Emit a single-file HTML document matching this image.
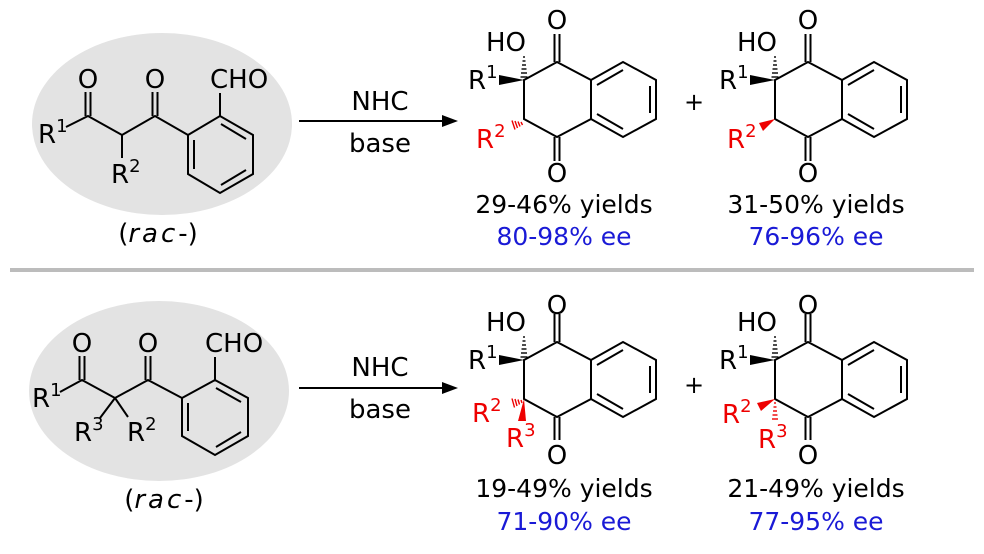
<!DOCTYPE html>
<html><head><meta charset="utf-8"><style>
html,body{margin:0;padding:0;background:#fff;}
svg{display:block;}
text{font-family:"DejaVu Sans","Liberation Sans",sans-serif;}
</style></head><body>
<svg width="984" height="554" viewBox="0 0 984 554" xmlns="http://www.w3.org/2000/svg">
<defs>
<g id="core" fill="none" stroke="#000" stroke-width="2">
  <path d="M524,80 L557,62 L591,80 L591,119 L557,137 L524,119 Z"/>
  <path d="M591,80 L623,62 L656,80 L656,119 L623,137 L591,119"/>
  <path d="M597,85 L623,70 M650,86 L650,113 M623,129 L597,114"/>
  <path d="M554.5,62 L554.5,34 M559.5,62 L559.5,34"/>
</g>
<g id="r1">
  <polygon points="524,80 499,75 499,85" fill="#000"/>
  <g stroke="#000" stroke-width="1.4">
    <line x1="520.5" y1="77" x2="527.5" y2="77"/><line x1="521" y1="73" x2="527" y2="73"/>
    <line x1="521.5" y1="69" x2="526.5" y2="69"/><line x1="522" y1="65" x2="526" y2="65"/>
    <line x1="522.5" y1="61" x2="525.5" y2="61"/><line x1="523" y1="57" x2="525" y2="57"/>
  </g>
</g>
</defs>

<ellipse cx="162" cy="124" rx="130" ry="91" fill="#e3e3e3"/>
<ellipse cx="159" cy="391" rx="130" ry="90" fill="#e3e3e3"/>
<rect x="10" y="268" width="964" height="4" fill="#bcbcbc"/>

<!-- Top substrate -->
<g fill="none" stroke="#000" stroke-width="2">
  <path d="M66,127 L88,116 L122,135 L155,116 L188,135"/>
  <path d="M122,135 L122,158"/>
  <path d="M85.5,116 L85.5,92 M90.5,116 L90.5,92"/>
  <path d="M152.5,116 L152.5,92 M157.5,116 L157.5,92"/>
  <path d="M188,135 L220,116 L253,135 L253,174 L220,193 L188,174 Z"/>
  <path d="M221,124 L246,139 M246,170 L221,185 M194,140 L194,169"/>
  <path d="M220,116 L220,93"/>
</g>
<g font-size="26" fill="#000">
  <text x="88" y="88" text-anchor="middle">O</text>
  <text x="155" y="88" text-anchor="middle">O</text>
  <text x="210" y="88">CHO</text>
  <text x="38" y="143">R<tspan font-size="18" dy="-11">1</tspan></text>
  <text x="111" y="183">R<tspan font-size="18" dy="-11">2</tspan></text>
  <text x="158" y="242" text-anchor="middle">(<tspan font-style="italic" letter-spacing="3">rac</tspan>-)</text>
</g>

<!-- Bottom substrate -->
<g fill="none" stroke="#000" stroke-width="2">
  <path d="M60,392 L82,380 L115,398 L148,380 L182,398"/>
  <path d="M115,398 L100,418 M115,398 L128,417"/>
  <path d="M79.5,380 L79.5,356 M84.5,380 L84.5,356"/>
  <path d="M145.5,380 L145.5,356 M150.5,380 L150.5,356"/>
  <path d="M182,398 L215,380 L248,398 L248,436 L215,455 L182,436 Z"/>
  <path d="M216,388 L241,402 M241,432 L216,447 M188,403 L188,431"/>
  <path d="M215,380 L215,357"/>
</g>
<g font-size="26" fill="#000">
  <text x="82" y="352" text-anchor="middle">O</text>
  <text x="148" y="352" text-anchor="middle">O</text>
  <text x="205" y="352">CHO</text>
  <text x="32" y="407">R<tspan font-size="18" dy="-11">1</tspan></text>
  <text x="74" y="441">R<tspan font-size="18" dy="-11">3</tspan></text>
  <text x="127" y="441">R<tspan font-size="18" dy="-11">2</tspan></text>
  <text x="164" y="508" text-anchor="middle">(<tspan font-style="italic" letter-spacing="3">rac</tspan>-)</text>
</g>

<!-- Arrows -->
<g stroke="#000" stroke-width="2">
  <line x1="299" y1="121" x2="445" y2="121"/>
  <line x1="299" y1="388" x2="445" y2="388"/>
</g>
<polygon points="458,121 442,115 442,127" fill="#000"/>
<polygon points="458,388 442,382 442,394" fill="#000"/>
<g font-size="26" fill="#000" text-anchor="middle">
  <text x="380" y="110">NHC</text>
  <text x="380" y="152">base</text>
  <text x="380" y="376">NHC</text>
  <text x="380" y="418">base</text>
  <text x="694" y="110" font-size="24">+</text>
  <text x="694" y="393" font-size="24">+</text>
</g>

<!-- Product 1 top -->
<use href="#core"/>
<use href="#r1"/>
<g stroke="#000" stroke-width="2"><path d="M554.5,137 L554.5,161 M559.5,137 L559.5,161"/></g>
<g stroke="#e00" stroke-width="1.4">
  <line x1="521" y1="122" x2="522.5" y2="125"/><line x1="518" y1="121.5" x2="520" y2="126.5"/>
  <line x1="515" y1="121" x2="517.5" y2="128"/><line x1="512" y1="120.5" x2="515" y2="129.5"/>
</g>
<g font-size="26">
  <text x="557" y="29" text-anchor="middle">O</text>
  <text x="557" y="182" text-anchor="middle">O</text>
  <text x="486" y="51">HO</text>
  <text x="468" y="89">R<tspan font-size="18" dy="-11">1</tspan></text>
  <text x="476" y="148" fill="#e00">R<tspan font-size="18" dy="-11">2</tspan></text>
</g>

<!-- Product 2 top -->
<g transform="translate(251,0)">
<use href="#core"/>
<use href="#r1"/>
<g stroke="#000" stroke-width="2"><path d="M554.5,137 L554.5,161 M559.5,137 L559.5,161"/></g>
<polygon points="524,119 508,123 512,131" fill="#e00"/>
<g font-size="26">
  <text x="557" y="29" text-anchor="middle">O</text>
  <text x="557" y="182" text-anchor="middle">O</text>
  <text x="486" y="51">HO</text>
  <text x="468" y="89">R<tspan font-size="18" dy="-11">1</tspan></text>
  <text x="476" y="148" fill="#e00">R<tspan font-size="18" dy="-11">2</tspan></text>
</g>
</g>

<!-- Product 1 bottom -->
<g transform="translate(0,280)">
<use href="#core"/>
<use href="#r1"/>
<g stroke="#000" stroke-width="2"><path d="M554.5,137 L554.5,160 M559.5,137 L559.5,160"/></g>
<g stroke="#e00" stroke-width="1.4">
  <line x1="521" y1="120" x2="522" y2="123"/><line x1="518" y1="119.5" x2="519.5" y2="124.5"/>
  <line x1="515" y1="119" x2="517" y2="126"/><line x1="512" y1="118.5" x2="514.5" y2="127.5"/>
</g>
<polygon points="524,119 518,141 526,141" fill="#e00"/>
<g font-size="26">
  <text x="557" y="34" text-anchor="middle">O</text>
  <text x="557" y="184" text-anchor="middle">O</text>
  <text x="486" y="51">HO</text>
  <text x="468" y="89">R<tspan font-size="18" dy="-11">1</tspan></text>
  <text x="472" y="142" fill="#e00">R<tspan font-size="18" dy="-11">2</tspan></text>
  <text x="506" y="167" fill="#e00">R<tspan font-size="18" dy="-11">3</tspan></text>
</g>
</g>

<!-- Product 2 bottom -->
<g transform="translate(251,280)">
<use href="#core"/>
<use href="#r1"/>
<g stroke="#000" stroke-width="2"><path d="M554.5,137 L554.5,160 M559.5,137 L559.5,160"/></g>
<polygon points="524,119 506,123 510,131" fill="#e00"/>
<g stroke="#e00" stroke-width="1.4">
  <line x1="523" y1="123" x2="525" y2="123"/><line x1="522.5" y1="127" x2="525.5" y2="127"/>
  <line x1="522" y1="131" x2="526" y2="131"/><line x1="521.5" y1="135" x2="526.5" y2="135"/>
  <line x1="521" y1="139" x2="527" y2="139"/>
</g>
<g font-size="26">
  <text x="557" y="34" text-anchor="middle">O</text>
  <text x="557" y="184" text-anchor="middle">O</text>
  <text x="486" y="51">HO</text>
  <text x="468" y="89">R<tspan font-size="18" dy="-11">1</tspan></text>
  <text x="471" y="143" fill="#e00">R<tspan font-size="18" dy="-11">2</tspan></text>
  <text x="507" y="168" fill="#e00">R<tspan font-size="18" dy="-11">3</tspan></text>
</g>
</g>

<g font-size="25" text-anchor="middle">
  <text x="564" y="213" fill="#000">29-46% yields</text>
  <text x="564" y="245" fill="#1a1ad6">80-98% ee</text>
  <text x="816" y="213" fill="#000">31-50% yields</text>
  <text x="816" y="245" fill="#1a1ad6">76-96% ee</text>
  <text x="564" y="497" fill="#000">19-49% yields</text>
  <text x="564" y="530" fill="#1a1ad6">71-90% ee</text>
  <text x="816" y="497" fill="#000">21-49% yields</text>
  <text x="816" y="530" fill="#1a1ad6">77-95% ee</text>
</g>
</svg>
</body></html>
